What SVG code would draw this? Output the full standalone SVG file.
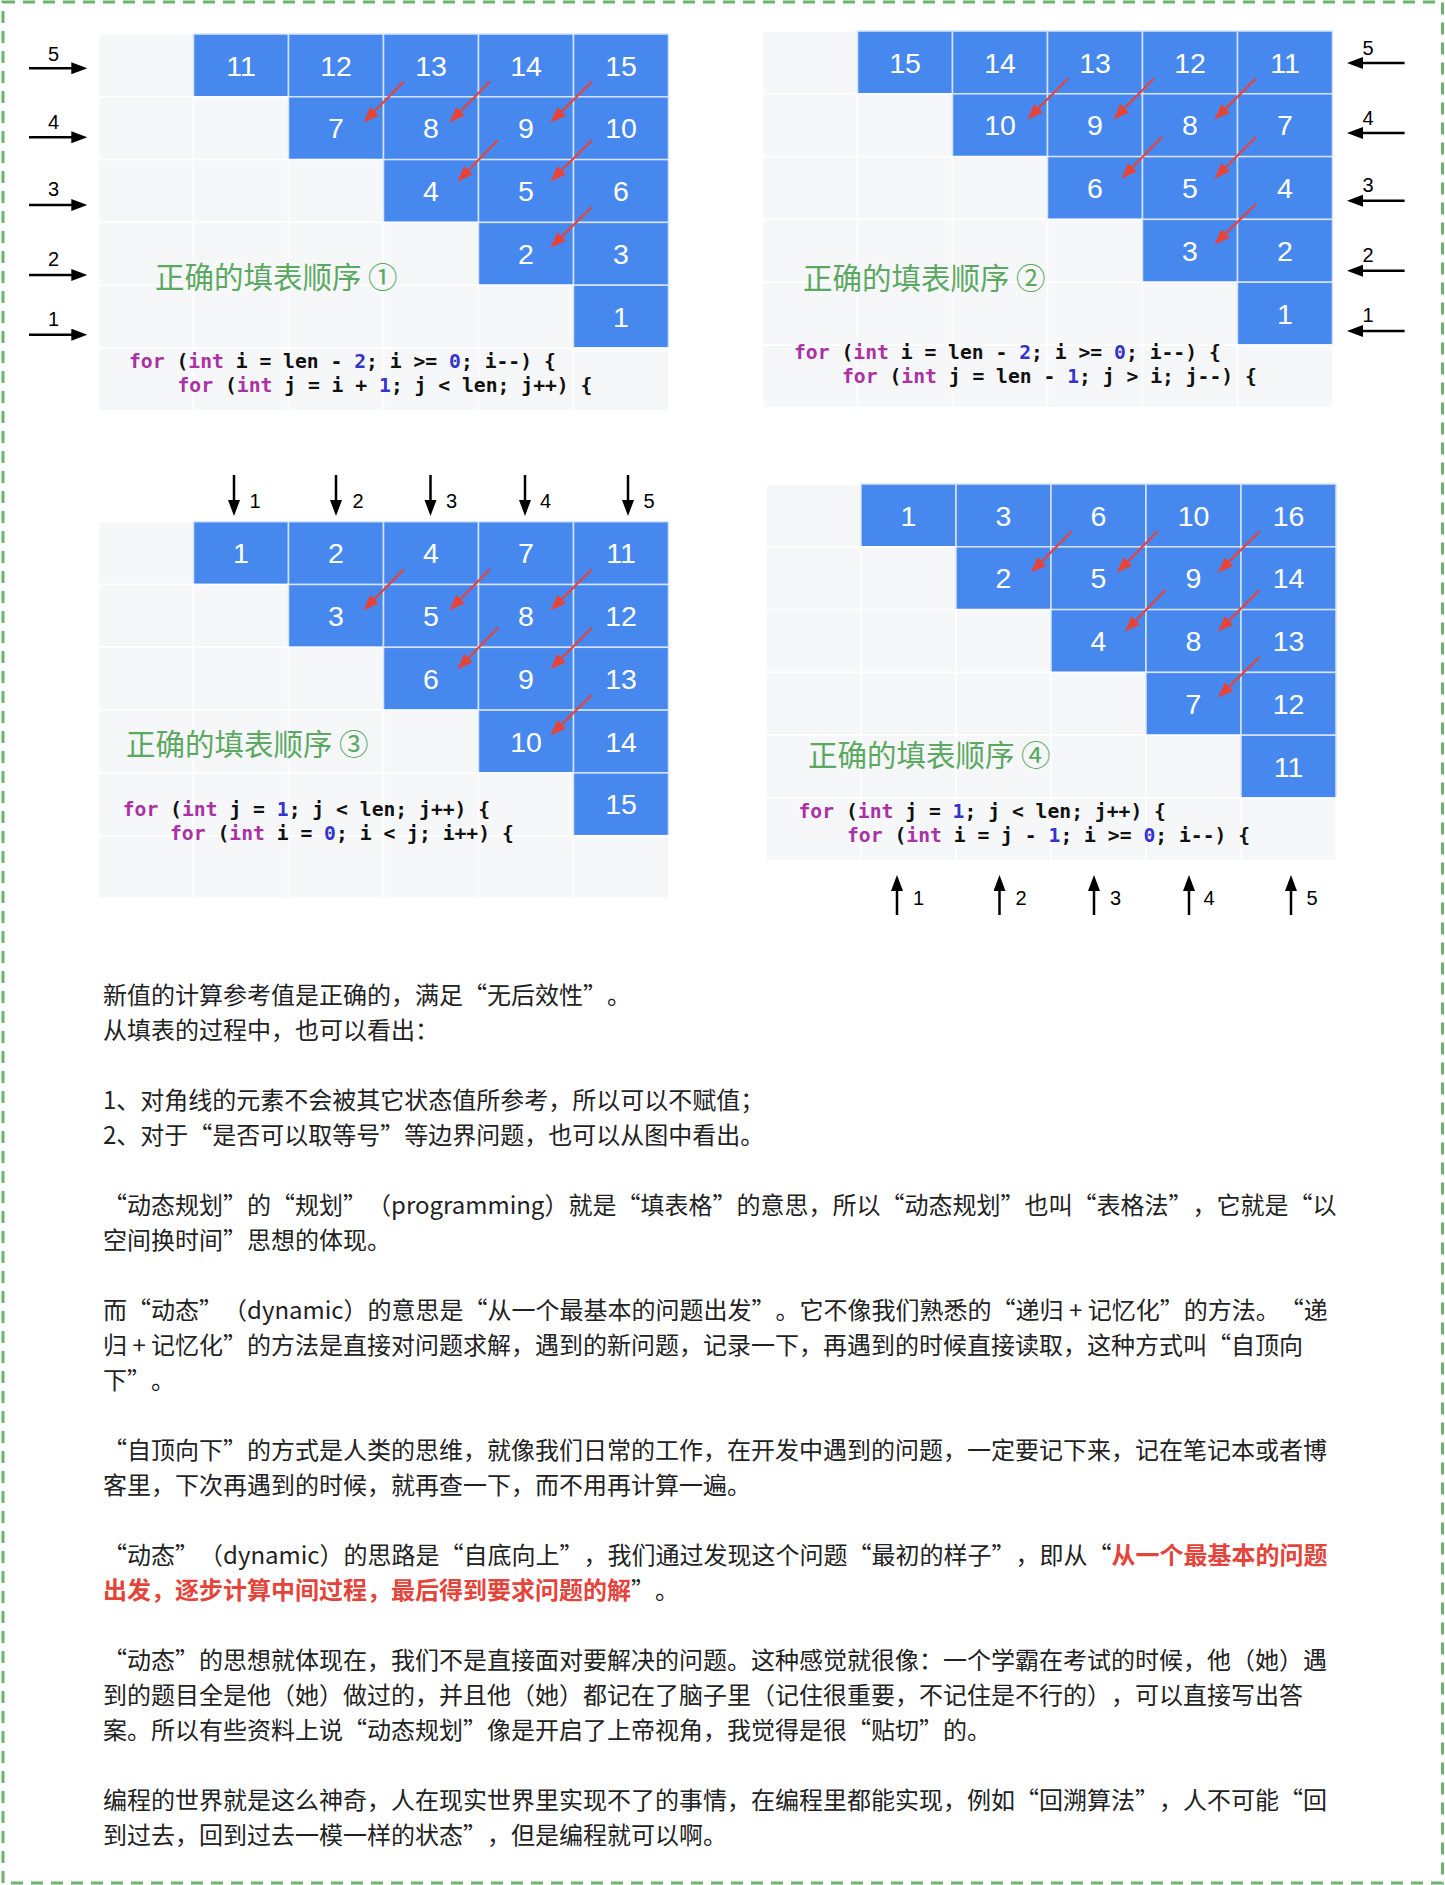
<svg xmlns="http://www.w3.org/2000/svg" xmlns:xlink="http://www.w3.org/1999/xlink" width="1445" height="1885" viewBox="0 0 1445 1885">
<style>
.l{fill:#f6f7f9;stroke:#ffffff;stroke-width:1.5}
.b{fill:#4788ef;stroke:#d6e3fb;stroke-width:1.5}
.n{font-family:"Liberation Sans",Arial,sans-serif;font-size:28.5px;fill:#ffffff;text-anchor:middle}
.ra{stroke:#e5443a;stroke-width:2.2;fill:none}
.ka{stroke:#000;stroke-width:2.5;fill:none}
.lab{font-family:"Liberation Sans",Arial,sans-serif;font-size:20px;fill:#000;text-anchor:middle}
.ttl{font-family:"Noto Sans CJK SC",sans-serif;font-size:29.5px;fill:#5ba961}
.code{font-family:"DejaVu Sans Mono","Liberation Mono",monospace;font-size:19.7px;font-weight:bold;fill:#111;white-space:pre}
.k{fill:#aa32a2}
.m{fill:#3434cc}
.t{font-family:"Noto Sans CJK SC",sans-serif;font-size:24px;fill:#222;text-spacing-trim:space-all}
.r{fill:#e5443a;font-weight:bold}
</style>
<defs>
<marker id="rh" markerUnits="userSpaceOnUse" markerWidth="17" markerHeight="13" refX="7" refY="6" orient="auto">
<path d="M0,0 L16,6 L0,12 z" fill="#e5443a"/>
</marker>
<marker id="bh" markerUnits="userSpaceOnUse" markerWidth="17" markerHeight="13" refX="8" refY="6" orient="auto">
<path d="M0,0 L16,6 L0,12 z" fill="#000"/>
</marker>
<g id="grid">
<rect class="l" x="0" y="0" width="95" height="62.8"/>
<rect class="b" x="95" y="0" width="95" height="62.8"/>
<rect class="b" x="190" y="0" width="95" height="62.8"/>
<rect class="b" x="285" y="0" width="95" height="62.8"/>
<rect class="b" x="380" y="0" width="95" height="62.8"/>
<rect class="b" x="475" y="0" width="95" height="62.8"/>
<rect class="l" x="0" y="62.8" width="95" height="62.8"/>
<rect class="l" x="95" y="62.8" width="95" height="62.8"/>
<rect class="b" x="190" y="62.8" width="95" height="62.8"/>
<rect class="b" x="285" y="62.8" width="95" height="62.8"/>
<rect class="b" x="380" y="62.8" width="95" height="62.8"/>
<rect class="b" x="475" y="62.8" width="95" height="62.8"/>
<rect class="l" x="0" y="125.6" width="95" height="62.8"/>
<rect class="l" x="95" y="125.6" width="95" height="62.8"/>
<rect class="l" x="190" y="125.6" width="95" height="62.8"/>
<rect class="b" x="285" y="125.6" width="95" height="62.8"/>
<rect class="b" x="380" y="125.6" width="95" height="62.8"/>
<rect class="b" x="475" y="125.6" width="95" height="62.8"/>
<rect class="l" x="0" y="188.4" width="95" height="62.8"/>
<rect class="l" x="95" y="188.4" width="95" height="62.8"/>
<rect class="l" x="190" y="188.4" width="95" height="62.8"/>
<rect class="l" x="285" y="188.4" width="95" height="62.8"/>
<rect class="b" x="380" y="188.4" width="95" height="62.8"/>
<rect class="b" x="475" y="188.4" width="95" height="62.8"/>
<rect class="l" x="0" y="251.2" width="95" height="62.8"/>
<rect class="l" x="95" y="251.2" width="95" height="62.8"/>
<rect class="l" x="190" y="251.2" width="95" height="62.8"/>
<rect class="l" x="285" y="251.2" width="95" height="62.8"/>
<rect class="l" x="380" y="251.2" width="95" height="62.8"/>
<rect class="b" x="475" y="251.2" width="95" height="62.8"/>
<rect class="l" x="0" y="314" width="95" height="62.8"/>
<rect class="l" x="95" y="314" width="95" height="62.8"/>
<rect class="l" x="190" y="314" width="95" height="62.8"/>
<rect class="l" x="285" y="314" width="95" height="62.8"/>
<rect class="l" x="380" y="314" width="95" height="62.8"/>
<rect class="l" x="475" y="314" width="95" height="62.8"/>
</g>
<g id="arrows">
<line class="ra" x1="305.5" y1="47.5" x2="271.1" y2="82.3" marker-end="url(#rh)"/>
<line class="ra" x1="391.5" y1="47.5" x2="357.1" y2="82.3" marker-end="url(#rh)"/>
<line class="ra" x1="493.5" y1="47.5" x2="458.2" y2="82.4" marker-end="url(#rh)"/>
<line class="ra" x1="399.5" y1="106" x2="365.1" y2="141.3" marker-end="url(#rh)"/>
<line class="ra" x1="493.5" y1="106" x2="458.2" y2="141.3" marker-end="url(#rh)"/>
<line class="ra" x1="493.5" y1="173" x2="458.2" y2="207.4" marker-end="url(#rh)"/>
</g>
</defs>

<rect x="3" y="2" width="1439.5" height="1881" fill="none" stroke="#6ab46e" stroke-width="3" stroke-dasharray="12 8"/>

<g id="panel1">
<use xlink:href="#grid" x="98.5" y="34"/>
<g transform="translate(98.5,34)">
<text class="n" x="142.5" y="41.6">11</text><text class="n" x="237.5" y="41.6">12</text><text class="n" x="332.5" y="41.6">13</text><text class="n" x="427.5" y="41.6">14</text><text class="n" x="522.5" y="41.6">15</text>
<text class="n" x="237.5" y="104.4">7</text><text class="n" x="332.5" y="104.4">8</text><text class="n" x="427.5" y="104.4">9</text><text class="n" x="522.5" y="104.4">10</text>
<text class="n" x="332.5" y="167.2">4</text><text class="n" x="427.5" y="167.2">5</text><text class="n" x="522.5" y="167.2">6</text>
<text class="n" x="427.5" y="230">2</text><text class="n" x="522.5" y="230">3</text>
<text class="n" x="522.5" y="292.8">1</text>
</g>
<use xlink:href="#arrows" x="98.5" y="34"/>
<text class="ttl" x="155" y="287.7">正确的填表顺序 ①</text>
<text class="code" x="129" y="368.3"><tspan class="k">for</tspan> (<tspan class="k">int</tspan> i = len - <tspan class="m">2</tspan>; i &gt;= <tspan class="m">0</tspan>; i--) {</text>
<text class="code" x="177.5" y="391.7"><tspan class="k">for</tspan> (<tspan class="k">int</tspan> j = i + <tspan class="m">1</tspan>; j &lt; len; j++) {</text>
<g id="rowarrows1">
<line class="ka" x1="29" y1="68.3" x2="79.3" y2="68.3" marker-end="url(#bh)"/>
<line class="ka" x1="29" y1="137.3" x2="79.3" y2="137.3" marker-end="url(#bh)"/>
<line class="ka" x1="29" y1="205" x2="79.3" y2="205" marker-end="url(#bh)"/>
<line class="ka" x1="29" y1="275" x2="79.3" y2="275" marker-end="url(#bh)"/>
<line class="ka" x1="29" y1="334.7" x2="79.3" y2="334.7" marker-end="url(#bh)"/>
<text class="lab" x="53.5" y="60.5">5</text>
<text class="lab" x="53.5" y="129">4</text>
<text class="lab" x="53.5" y="196">3</text>
<text class="lab" x="53.5" y="266">2</text>
<text class="lab" x="53.5" y="326">1</text>
</g>
</g>

<g id="panel2">
<use xlink:href="#grid" x="762.5" y="31"/>
<g transform="translate(762.5,31)">
<text class="n" x="142.5" y="41.6">15</text><text class="n" x="237.5" y="41.6">14</text><text class="n" x="332.5" y="41.6">13</text><text class="n" x="427.5" y="41.6">12</text><text class="n" x="522.5" y="41.6">11</text>
<text class="n" x="237.5" y="104.4">10</text><text class="n" x="332.5" y="104.4">9</text><text class="n" x="427.5" y="104.4">8</text><text class="n" x="522.5" y="104.4">7</text>
<text class="n" x="332.5" y="167.2">6</text><text class="n" x="427.5" y="167.2">5</text><text class="n" x="522.5" y="167.2">4</text>
<text class="n" x="427.5" y="230">3</text><text class="n" x="522.5" y="230">2</text>
<text class="n" x="522.5" y="292.8">1</text>
</g>
<use xlink:href="#arrows" x="762.5" y="31"/>
<text class="ttl" x="803" y="289">正确的填表顺序 ②</text>
<text class="code" x="794" y="359.3"><tspan class="k">for</tspan> (<tspan class="k">int</tspan> i = len - <tspan class="m">2</tspan>; i &gt;= <tspan class="m">0</tspan>; i--) {</text>
<text class="code" x="842" y="383.3"><tspan class="k">for</tspan> (<tspan class="k">int</tspan> j = len - <tspan class="m">1</tspan>; j &gt; i; j--) {</text>
<g id="rowarrows2">
<line class="ka" x1="1404.6" y1="63" x2="1355" y2="63" marker-end="url(#bh)"/>
<line class="ka" x1="1404.6" y1="133" x2="1355" y2="133" marker-end="url(#bh)"/>
<line class="ka" x1="1404.6" y1="200.7" x2="1355" y2="200.7" marker-end="url(#bh)"/>
<line class="ka" x1="1404.6" y1="270.7" x2="1355" y2="270.7" marker-end="url(#bh)"/>
<line class="ka" x1="1404.6" y1="331" x2="1355" y2="331" marker-end="url(#bh)"/>
<text class="lab" x="1368" y="55">5</text>
<text class="lab" x="1368" y="125">4</text>
<text class="lab" x="1368" y="192">3</text>
<text class="lab" x="1368" y="262">2</text>
<text class="lab" x="1368" y="322">1</text>
</g>
</g>

<g id="panel3">
<use xlink:href="#grid" x="98.5" y="521.7"/>
<g transform="translate(98.5,521.7)">
<text class="n" x="142.5" y="41.6">1</text><text class="n" x="237.5" y="41.6">2</text><text class="n" x="332.5" y="41.6">4</text><text class="n" x="427.5" y="41.6">7</text><text class="n" x="522.5" y="41.6">11</text>
<text class="n" x="237.5" y="104.4">3</text><text class="n" x="332.5" y="104.4">5</text><text class="n" x="427.5" y="104.4">8</text><text class="n" x="522.5" y="104.4">12</text>
<text class="n" x="332.5" y="167.2">6</text><text class="n" x="427.5" y="167.2">9</text><text class="n" x="522.5" y="167.2">13</text>
<text class="n" x="427.5" y="230">10</text><text class="n" x="522.5" y="230">14</text>
<text class="n" x="522.5" y="292.8">15</text>
</g>
<use xlink:href="#arrows" x="98.5" y="521.7"/>
<text class="ttl" x="126" y="755">正确的填表顺序 ③</text>
<text class="code" x="122.7" y="816"><tspan class="k">for</tspan> (<tspan class="k">int</tspan> j = <tspan class="m">1</tspan>; j &lt; len; j++) {</text>
<text class="code" x="170" y="840"><tspan class="k">for</tspan> (<tspan class="k">int</tspan> i = <tspan class="m">0</tspan>; i &lt; j; i++) {</text>
<g id="colarrows3">
<line class="ka" x1="234" y1="475" x2="234" y2="508" marker-end="url(#bh)"/>
<line class="ka" x1="336" y1="475" x2="336" y2="508" marker-end="url(#bh)"/>
<line class="ka" x1="430.5" y1="475" x2="430.5" y2="508" marker-end="url(#bh)"/>
<line class="ka" x1="525" y1="475" x2="525" y2="508" marker-end="url(#bh)"/>
<line class="ka" x1="628" y1="475" x2="628" y2="508" marker-end="url(#bh)"/>
<text class="lab" x="255" y="508">1</text>
<text class="lab" x="358" y="508">2</text>
<text class="lab" x="451.5" y="508">3</text>
<text class="lab" x="545.5" y="508">4</text>
<text class="lab" x="649" y="508">5</text>
</g>
</g>

<g id="panel4">
<use xlink:href="#grid" x="766" y="484"/>
<g transform="translate(766,484)">
<text class="n" x="142.5" y="41.6">1</text><text class="n" x="237.5" y="41.6">3</text><text class="n" x="332.5" y="41.6">6</text><text class="n" x="427.5" y="41.6">10</text><text class="n" x="522.5" y="41.6">16</text>
<text class="n" x="237.5" y="104.4">2</text><text class="n" x="332.5" y="104.4">5</text><text class="n" x="427.5" y="104.4">9</text><text class="n" x="522.5" y="104.4">14</text>
<text class="n" x="332.5" y="167.2">4</text><text class="n" x="427.5" y="167.2">8</text><text class="n" x="522.5" y="167.2">13</text>
<text class="n" x="427.5" y="230">7</text><text class="n" x="522.5" y="230">12</text>
<text class="n" x="522.5" y="292.8">11</text>
</g>
<use xlink:href="#arrows" x="766" y="484"/>
<text class="ttl" x="808" y="766">正确的填表顺序 ④</text>
<text class="code" x="798.5" y="817.6"><tspan class="k">for</tspan> (<tspan class="k">int</tspan> j = <tspan class="m">1</tspan>; j &lt; len; j++) {</text>
<text class="code" x="847" y="841.6"><tspan class="k">for</tspan> (<tspan class="k">int</tspan> i = j - <tspan class="m">1</tspan>; i &gt;= <tspan class="m">0</tspan>; i--) {</text>
<g id="colarrows4">
<line class="ka" x1="897" y1="915" x2="897" y2="883" marker-end="url(#bh)"/>
<line class="ka" x1="999.5" y1="915" x2="999.5" y2="883" marker-end="url(#bh)"/>
<line class="ka" x1="1094" y1="915" x2="1094" y2="883" marker-end="url(#bh)"/>
<line class="ka" x1="1189" y1="915" x2="1189" y2="883" marker-end="url(#bh)"/>
<line class="ka" x1="1291" y1="915" x2="1291" y2="883" marker-end="url(#bh)"/>
<text class="lab" x="918.5" y="905">1</text>
<text class="lab" x="1021" y="905">2</text>
<text class="lab" x="1115.5" y="905">3</text>
<text class="lab" x="1209" y="905">4</text>
<text class="lab" x="1312" y="905">5</text>
</g>
</g>

<g id="body">
<text class="t" x="103" y="1004">新值的计算参考值是正确的，满足“无后效性”。</text>
<text class="t" x="103" y="1039">从填表的过程中，也可以看出：</text>
<text class="t" x="103" y="1109">1、对角线的元素不会被其它状态值所参考，所以可以不赋值；</text>
<text class="t" x="103" y="1144">2、对于“是否可以取等号”等边界问题，也可以从图中看出。</text>
<text class="t" x="103" y="1214">“动态规划”的“规划”（programming）就是“填表格”的意思，所以“动态规划”也叫“表格法”，它就是“以</text>
<text class="t" x="103" y="1249">空间换时间”思想的体现。</text>
<text class="t" x="103" y="1319">而“动态”（dynamic）的意思是“从一个最基本的问题出发”。它不像我们熟悉的“递归 + 记忆化”的方法。“递</text>
<text class="t" x="103" y="1354">归 + 记忆化”的方法是直接对问题求解，遇到的新问题，记录一下，再遇到的时候直接读取，这种方式叫“自顶向</text>
<text class="t" x="103" y="1389">下”。</text>
<text class="t" x="103" y="1459">“自顶向下”的方式是人类的思维，就像我们日常的工作，在开发中遇到的问题，一定要记下来，记在笔记本或者博</text>
<text class="t" x="103" y="1494">客里，下次再遇到的时候，就再查一下，而不用再计算一遍。</text>
<text class="t" x="103" y="1564">“动态”（dynamic）的思路是“自底向上”，我们通过发现这个问题“最初的样子”，即从“<tspan class="r">从一个最基本的问题</tspan></text>
<text class="t" x="103" y="1599"><tspan class="r">出发，逐步计算中间过程，最后得到要求问题的解</tspan>”。</text>
<text class="t" x="103" y="1669">“动态”的思想就体现在，我们不是直接面对要解决的问题。这种感觉就很像：一个学霸在考试的时候，他（她）遇</text>
<text class="t" x="103" y="1704">到的题目全是他（她）做过的，并且他（她）都记在了脑子里（记住很重要，不记住是不行的），可以直接写出答</text>
<text class="t" x="103" y="1739">案。所以有些资料上说“动态规划”像是开启了上帝视角，我觉得是很“贴切”的。</text>
<text class="t" x="103" y="1809">编程的世界就是这么神奇，人在现实世界里实现不了的事情，在编程里都能实现，例如“回溯算法”，人不可能“回</text>
<text class="t" x="103" y="1844">到过去，回到过去一模一样的状态”，但是编程就可以啊。</text>
</g>
</svg>
